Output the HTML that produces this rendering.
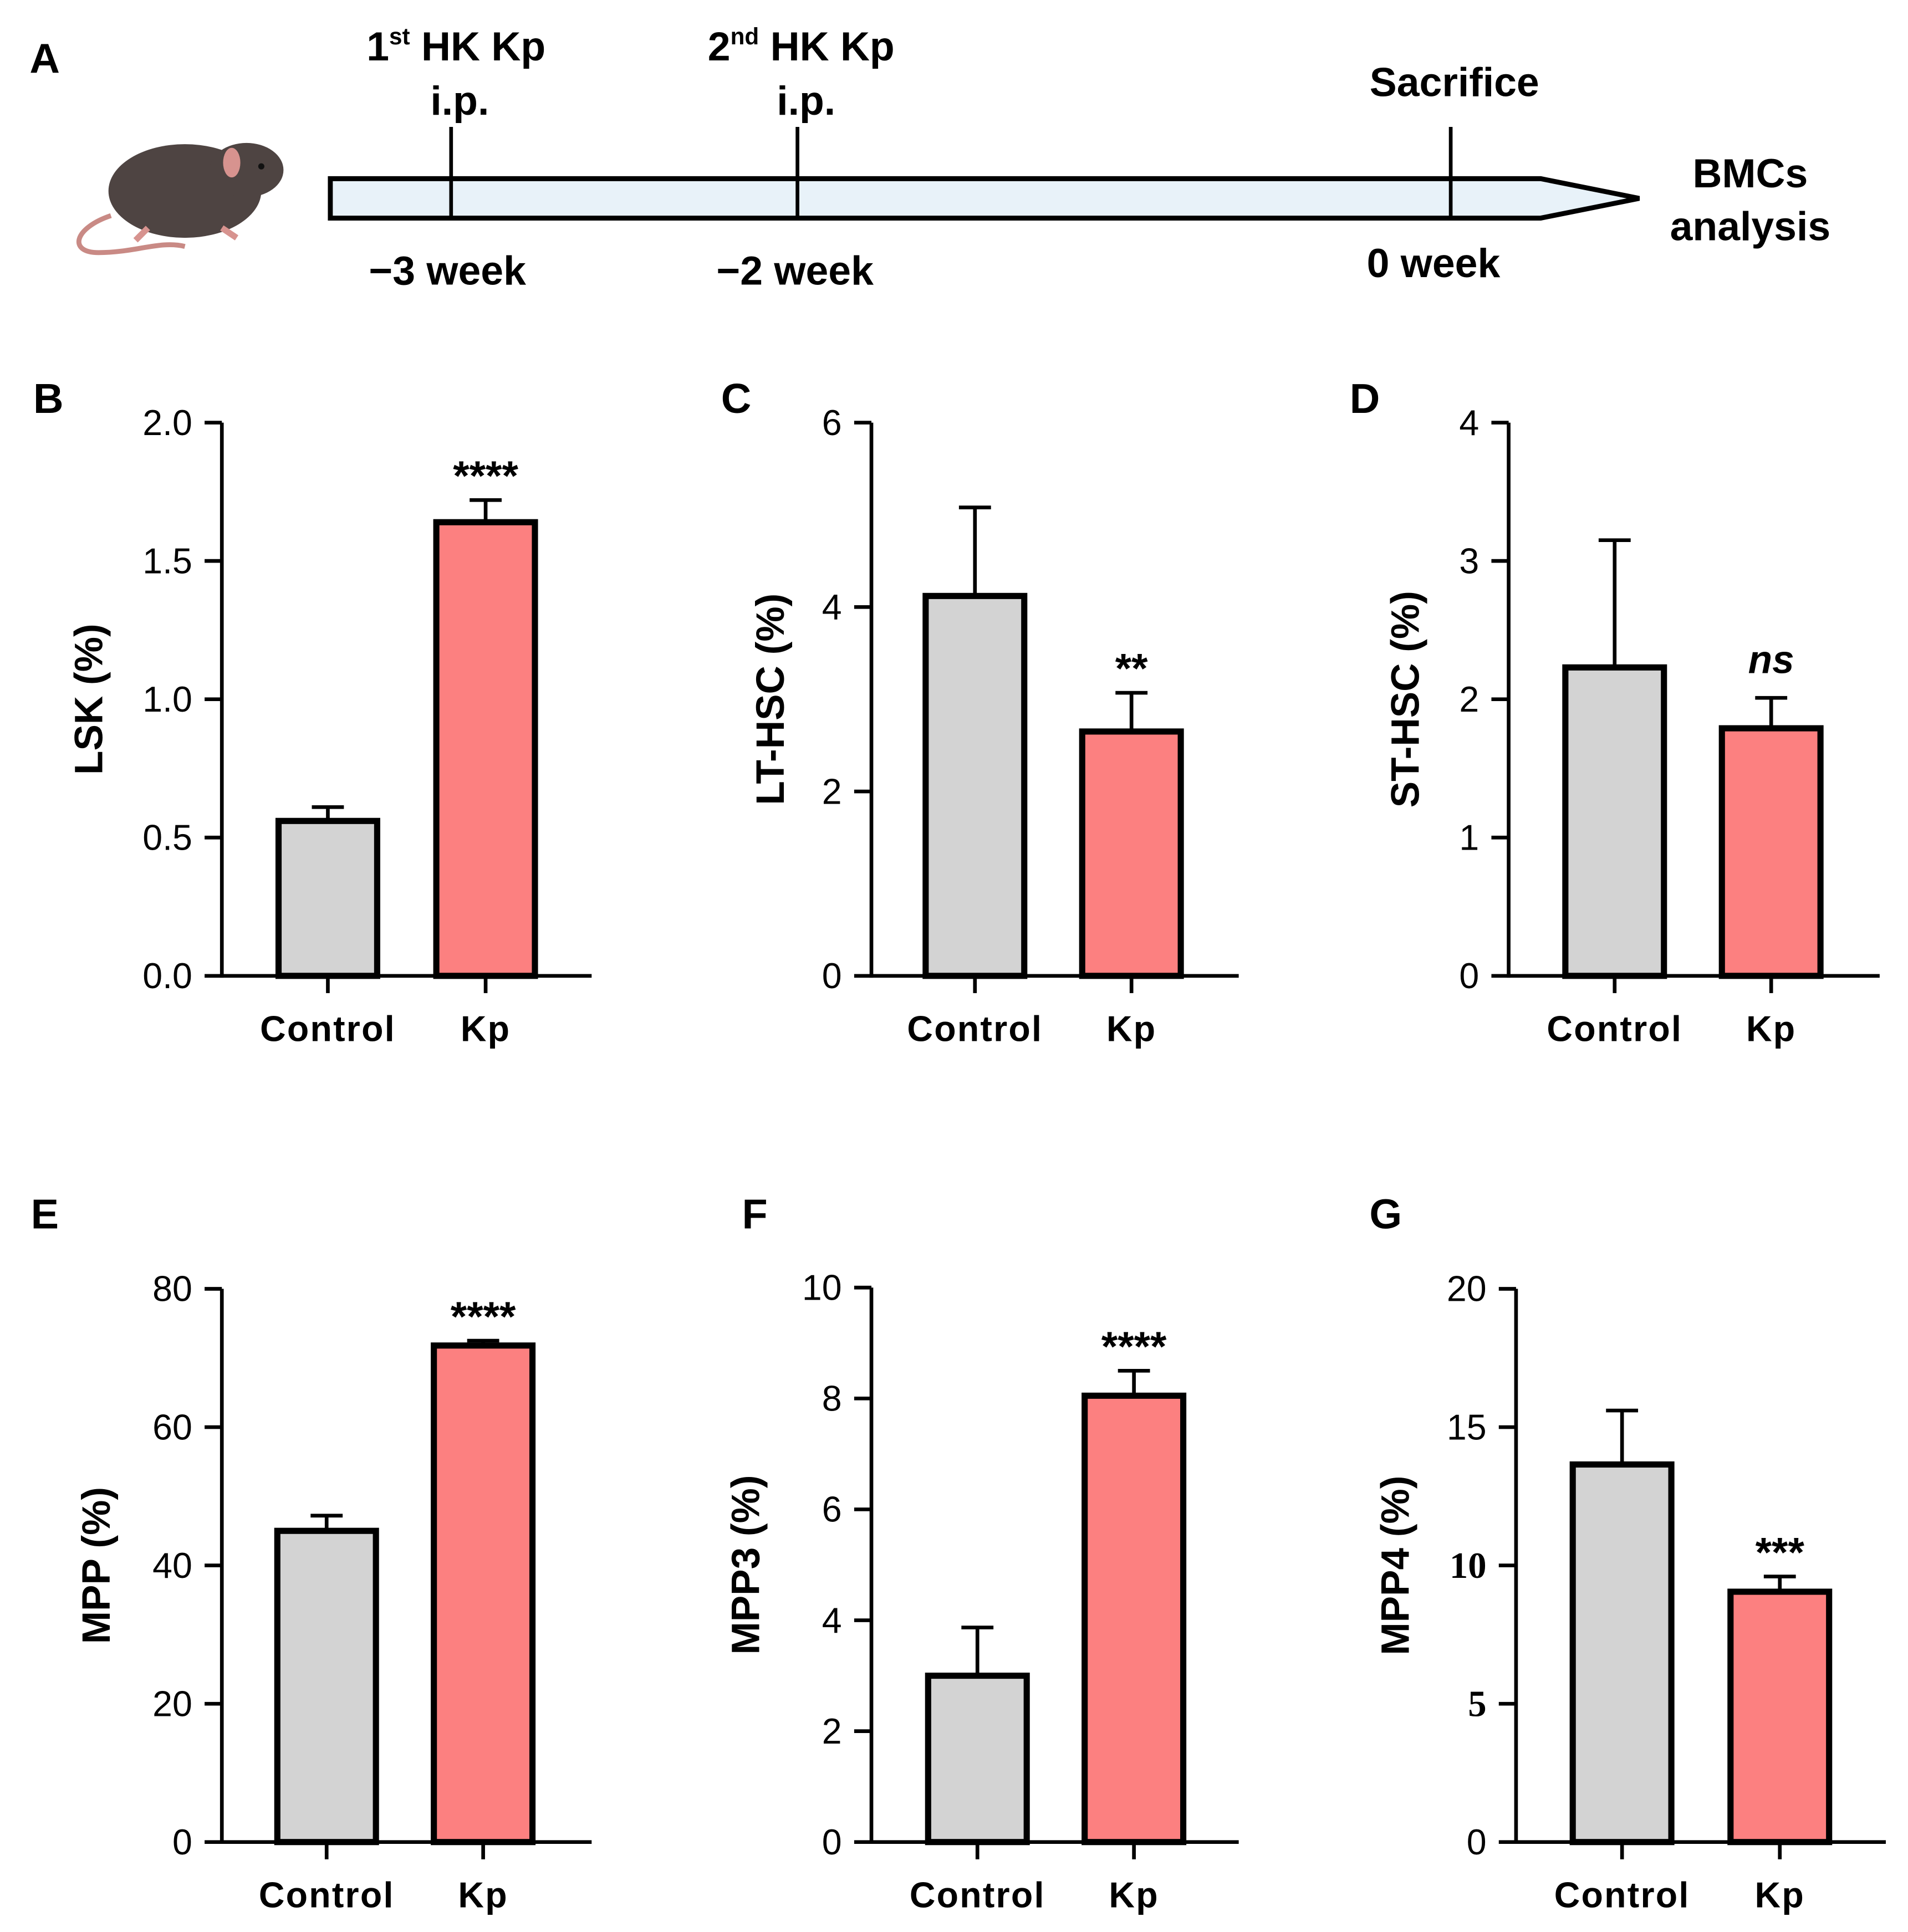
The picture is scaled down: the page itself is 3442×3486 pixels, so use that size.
<!DOCTYPE html>
<html><head><meta charset="utf-8"><style>
html,body{margin:0;padding:0;background:#fff;}
svg{display:block;}
text{font-family:"Liberation Sans",Arial,sans-serif;fill:#000;}
</style></head><body>
<svg id="fig" width="3442" height="3486" viewBox="0 0 1548 1568" preserveAspectRatio="none" xmlns="http://www.w3.org/2000/svg">
<g>
<text x="24" y="59" font-size="34" font-weight="bold">A</text>
<g>
<path d="M90,175 C60,185 55,205 80,205 C110,205 130,195 150,200" stroke="#c98a85" stroke-width="4" fill="none"/>
<ellipse cx="150" cy="155" rx="62" ry="38" fill="#4e4442"/>
<ellipse cx="200" cy="138" rx="30" ry="22" fill="#4e4442"/>
<ellipse cx="188" cy="132" rx="7" ry="12" fill="#d7938f"/>
<circle cx="212" cy="135" r="2.5" fill="#111"/>
<path d="M120,185 l-10,10 M180,185 l12,8" stroke="#d7938f" stroke-width="5"/>
</g>
<polygon points="268,145 1250,145 1330,161 1250,177 268,177" fill="#e8f2f9" stroke="#000" stroke-width="4"/>
<line x1="366" y1="103" x2="366" y2="177" stroke="#000" stroke-width="3"/>
<line x1="647" y1="103" x2="647" y2="177" stroke="#000" stroke-width="3"/>
<line x1="1177" y1="103" x2="1177" y2="177" stroke="#000" stroke-width="3"/>
<g font-weight="bold" font-size="33" text-anchor="middle">
<text x="370" y="49">1<tspan font-size="19" dy="-13">st</tspan><tspan dy="13"> HK Kp</tspan></text>
<text x="373" y="93">i.p.</text>
<text x="650" y="49">2<tspan font-size="19" dy="-13">nd</tspan><tspan dy="13"> HK Kp</tspan></text>
<text x="654" y="93">i.p.</text>
<text x="1180" y="78">Sacrifice</text>
<text x="363" y="231">−3 week</text>
<text x="645" y="231">−2 week</text>
<text x="1163" y="225">0 week</text>
<text x="1420" y="152">BMCs</text>
<text x="1420" y="195">analysis</text>
</g>
</g>
<g id="charts"></g>
</svg>
<script>
const categories = ["Control", "Kp"];
const panelLetters = ["B", "C", "D", "E", "F", "G"];
const panelTitles = ["LSK (%)", "LT-HSC (%)", "ST-HSC (%)", "MPP (%)", "MPP3 (%)", "MPP4 (%)"];
const panelMax = [2.0, 6, 4, 80, 10, 20];
const tickLabelsB = ["0.0", "0.5", "1.0", "1.5", "2.0"];
const tickLabelsC = ["0", "2", "4", "6"];
const tickLabelsD = ["0", "1", "2", "3", "4"];
const tickLabelsE = ["0", "20", "40", "60", "80"];
const tickLabelsF = ["0", "2", "4", "6", "8", "10"];
const tickLabelsG = ["0", "5", "10", "15", "20"];
const meansB = [0.56, 1.64];
const errB = [0.61, 1.72];
const meansC = [4.12, 2.65];
const errC = [5.08, 3.07];
const meansD = [2.23, 1.79];
const errD = [3.15, 2.01];
const meansE = [45, 71.8];
const errE = [47.2, 72.5];
const meansF = [3.0, 8.05];
const errF = [3.87, 8.5];
const meansG = [13.65, 9.05];
const errG = [15.6, 9.6];
const sigLabels = ["****", "**", "ns", "****", "****", "***"];

const NS = "http://www.w3.org/2000/svg";
const root = document.getElementById("charts");
const layouts = [
  {ax:180, top:343, bot:792, right:480, lx:27, ly:335, tx:72, bars:[226,354]},
  {ax:707, top:343, bot:792, right:1005, lx:585, ly:335, tx:625, bars:[751,878]},
  {ax:1224, top:343, bot:792, right:1525, lx:1095, ly:335, tx:1140, bars:[1270,1397]},
  {ax:180, top:1046, bot:1495, right:480, lx:25, ly:997, tx:78, bars:[225,352]},
  {ax:707, top:1045, bot:1495, right:1005, lx:602, ly:997, tx:605, bars:[753,880]},
  {ax:1230, top:1046, bot:1495, right:1530, lx:1111, ly:997, tx:1132, bars:[1276,1404]}
];
const ticksAll = [tickLabelsB, tickLabelsC, tickLabelsD, tickLabelsE, tickLabelsF, tickLabelsG];
const meansAll = [meansB, meansC, meansD, meansE, meansF, meansG];
const errAll = [errB, errC, errD, errE, errF, errG];
const colors = ["#d3d3d3", "#fc8080"];
function mk(tag, attrs, parent){ const e=document.createElementNS(NS,tag); for(const k in attrs) e.setAttribute(k,attrs[k]); parent.appendChild(e); return e; }

layouts.forEach((L, p) => {
  const g = mk("g", {}, root);
  
  
  const y = v => L.bot - v / panelMax[p] * (L.bot - L.top);
  const lt = mk("text", {x:L.lx, y:L.ly, "font-size":34, "font-weight":"bold"}, g);
  lt.textContent = panelLetters[p];
  
  
  const bw = 80;
  meansAll[p].forEach((m, i) => {
    const x0 = L.bars[i], cx = x0 + bw/2;
    const el = mk("line", {x1:cx, x2:cx, y1:y(m), y2:y(errAll[p][i]), stroke:"#000", "stroke-width":3}, g);
    
    
    const cap = mk("line", {x1:cx-13, x2:cx+13, y1:y(errAll[p][i]), y2:y(errAll[p][i]), stroke:"#000", "stroke-width":3}, g);
    
    
    const r = mk("rect", {x:x0, y:y(m), width:bw, height:L.bot - y(m), fill:colors[i], stroke:"#000", "stroke-width":5}, g);
    
    
    const c = mk("text", {x:cx, y:L.bot + 53, "font-size":29, "font-weight":"bold", "text-anchor":"middle", "letter-spacing":1}, g);
    c.textContent = categories[i];
    
    
    const xt = mk("line", {x1:cx, x2:cx, y1:L.bot, y2:L.bot+14, stroke:"#000", "stroke-width":3}, g);
    
    
  });
  const ya = mk("line", {x1:L.ax, x2:L.ax, y1:L.top, y2:L.bot+1.5, stroke:"#000", "stroke-width":3}, g);
  
  
  const xa = mk("line", {x1:L.ax, x2:L.right, y1:L.bot, y2:L.bot, stroke:"#000", "stroke-width":3}, g);
  
  
  const ticks = ticksAll[p];
  ticks.forEach(t => {
    const v = parseFloat(t), ty = y(v);
    const tl = mk("line", {x1:L.ax-14, x2:L.ax, y1:ty, y2:ty, stroke:"#000", "stroke-width":3}, g);
    
    
    const serif = (p === 5 && (t === "5" || t === "10"));
    const tt = mk("text", {x:L.ax-24, y:ty+10, "font-size":serif?30:29, "text-anchor":"end", "font-weight":serif?"bold":"normal"}, g);
    if (serif) tt.style.fontFamily = '"Liberation Serif", serif';
    tt.textContent = t;
    
    
  });
  const cy = (L.top + L.bot)/2;
  const yt = mk("text", {x:L.tx, y:cy, "font-size":32, "font-weight":"bold", "text-anchor":"middle", transform:`rotate(-90 ${L.tx} ${cy})`, dy:11}, g);
  yt.textContent = panelTitles[p];
  
  
  const ki = 1, kcx = L.bars[ki] + bw/2;
  const isNs = sigLabels[p] === "ns";
  const s = mk("text", {x:kcx, y:y(errAll[p][ki]) - (isNs ? 20 : 8), "font-size":isNs?32:34, "font-weight":"bold", "text-anchor":"middle"}, g);
  if (isNs) s.setAttribute("font-style","italic");
  s.textContent = sigLabels[p];
  
  
});
</script>
</body></html>
